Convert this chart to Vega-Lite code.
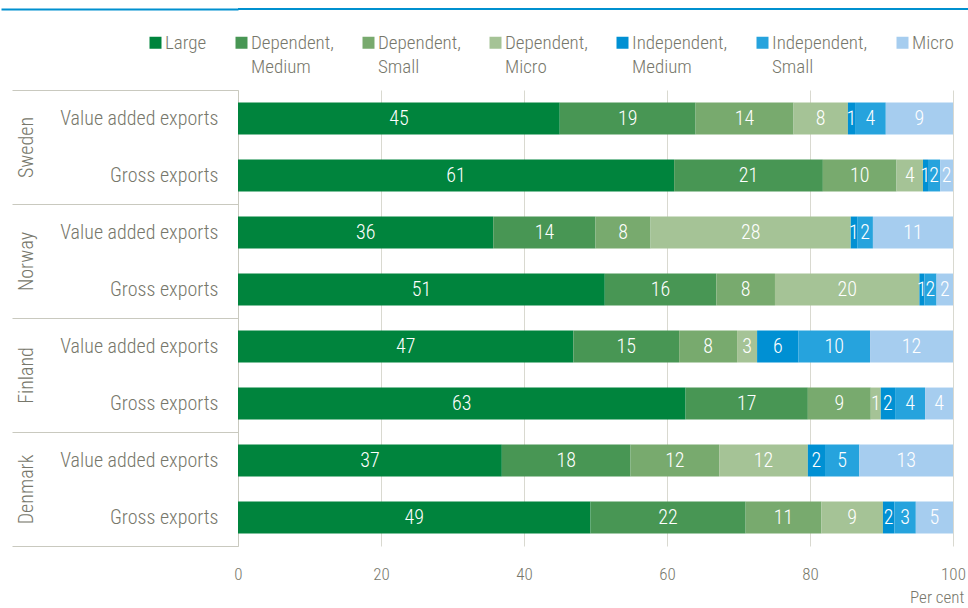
{
  "$schema": "https://vega.github.io/schema/vega-lite/v6.json",
  "padding": {"top": 8, "left": 0, "right": 0, "bottom": 0},
  "background": "white",
  "spacing": 79,
  "config": {
    "view": {"stroke": null},
    "font": "Roboto Condensed, Liberation Sans Narrow, DejaVu Sans Condensed, sans-serif"
  },
  "vconcat": [
    {
      "width": 731,
      "height": 1,
      "data": {"values": [{"line": 1}]},
      "mark": {"type": "rule", "color": "#0090cf", "strokeWidth": 2},
      "encoding": {
        "y": {
          "field": "line",
          "type": "quantitative",
          "scale": {"domain": [0, 1]},
          "axis": {
            "orient": "left",
            "values": [1],
            "title": null,
            "domain": false,
            "labels": false,
            "grid": false,
            "ticks": true,
            "tickSize": 237,
            "tickWidth": 2,
            "tickColor": "#0090cf"
          }
        }
      }
    },
    {
      "width": 715,
      "height": 456,
      "data": {
        "values": [
          {"country": "Sweden", "type": "Value added exports", "cat": "Large", "value": 45.0},
          {"country": "Sweden", "type": "Value added exports", "cat": "Dependent, Medium", "value": 19.0},
          {"country": "Sweden", "type": "Value added exports", "cat": "Dependent, Small", "value": 13.7},
          {"country": "Sweden", "type": "Value added exports", "cat": "Dependent, Micro", "value": 7.6},
          {"country": "Sweden", "type": "Value added exports", "cat": "Independent, Medium", "value": 1.0},
          {"country": "Sweden", "type": "Value added exports", "cat": "Independent, Small", "value": 4.3},
          {"country": "Sweden", "type": "Value added exports", "cat": "Micro", "value": 9.4},
          {"country": "Sweden", "type": "Gross exports", "cat": "Large", "value": 61.0},
          {"country": "Sweden", "type": "Gross exports", "cat": "Dependent, Medium", "value": 20.8},
          {"country": "Sweden", "type": "Gross exports", "cat": "Dependent, Small", "value": 10.3},
          {"country": "Sweden", "type": "Gross exports", "cat": "Dependent, Micro", "value": 3.7},
          {"country": "Sweden", "type": "Gross exports", "cat": "Independent, Medium", "value": 0.7},
          {"country": "Sweden", "type": "Gross exports", "cat": "Independent, Small", "value": 1.7},
          {"country": "Sweden", "type": "Gross exports", "cat": "Micro", "value": 1.8},
          {"country": "Norway", "type": "Value added exports", "cat": "Large", "value": 35.7},
          {"country": "Norway", "type": "Value added exports", "cat": "Dependent, Medium", "value": 14.3},
          {"country": "Norway", "type": "Value added exports", "cat": "Dependent, Small", "value": 7.7},
          {"country": "Norway", "type": "Value added exports", "cat": "Dependent, Micro", "value": 28.0},
          {"country": "Norway", "type": "Value added exports", "cat": "Independent, Medium", "value": 0.9},
          {"country": "Norway", "type": "Value added exports", "cat": "Independent, Small", "value": 2.2},
          {"country": "Norway", "type": "Value added exports", "cat": "Micro", "value": 11.2},
          {"country": "Norway", "type": "Gross exports", "cat": "Large", "value": 51.3},
          {"country": "Norway", "type": "Gross exports", "cat": "Dependent, Medium", "value": 15.6},
          {"country": "Norway", "type": "Gross exports", "cat": "Dependent, Small", "value": 8.2},
          {"country": "Norway", "type": "Gross exports", "cat": "Dependent, Micro", "value": 20.2},
          {"country": "Norway", "type": "Gross exports", "cat": "Independent, Medium", "value": 0.7},
          {"country": "Norway", "type": "Gross exports", "cat": "Independent, Small", "value": 1.7},
          {"country": "Norway", "type": "Gross exports", "cat": "Micro", "value": 2.3},
          {"country": "Finland", "type": "Value added exports", "cat": "Large", "value": 46.9},
          {"country": "Finland", "type": "Value added exports", "cat": "Dependent, Medium", "value": 14.8},
          {"country": "Finland", "type": "Value added exports", "cat": "Dependent, Small", "value": 8.1},
          {"country": "Finland", "type": "Value added exports", "cat": "Dependent, Micro", "value": 2.8},
          {"country": "Finland", "type": "Value added exports", "cat": "Independent, Medium", "value": 5.8},
          {"country": "Finland", "type": "Value added exports", "cat": "Independent, Small", "value": 10.0},
          {"country": "Finland", "type": "Value added exports", "cat": "Micro", "value": 11.6},
          {"country": "Finland", "type": "Gross exports", "cat": "Large", "value": 62.6},
          {"country": "Finland", "type": "Gross exports", "cat": "Dependent, Medium", "value": 17.1},
          {"country": "Finland", "type": "Gross exports", "cat": "Dependent, Small", "value": 8.8},
          {"country": "Finland", "type": "Gross exports", "cat": "Dependent, Micro", "value": 1.4},
          {"country": "Finland", "type": "Gross exports", "cat": "Independent, Medium", "value": 2.0},
          {"country": "Finland", "type": "Gross exports", "cat": "Independent, Small", "value": 4.2},
          {"country": "Finland", "type": "Gross exports", "cat": "Micro", "value": 3.9},
          {"country": "Denmark", "type": "Value added exports", "cat": "Large", "value": 36.9},
          {"country": "Denmark", "type": "Value added exports", "cat": "Dependent, Medium", "value": 18.0},
          {"country": "Denmark", "type": "Value added exports", "cat": "Dependent, Small", "value": 12.4},
          {"country": "Denmark", "type": "Value added exports", "cat": "Dependent, Micro", "value": 12.4},
          {"country": "Denmark", "type": "Value added exports", "cat": "Independent, Medium", "value": 2.4},
          {"country": "Denmark", "type": "Value added exports", "cat": "Independent, Small", "value": 4.8},
          {"country": "Denmark", "type": "Value added exports", "cat": "Micro", "value": 13.1},
          {"country": "Denmark", "type": "Gross exports", "cat": "Large", "value": 49.3},
          {"country": "Denmark", "type": "Gross exports", "cat": "Dependent, Medium", "value": 21.7},
          {"country": "Denmark", "type": "Gross exports", "cat": "Dependent, Small", "value": 10.6},
          {"country": "Denmark", "type": "Gross exports", "cat": "Dependent, Micro", "value": 8.6},
          {"country": "Denmark", "type": "Gross exports", "cat": "Independent, Medium", "value": 1.6},
          {"country": "Denmark", "type": "Gross exports", "cat": "Independent, Small", "value": 3.0},
          {"country": "Denmark", "type": "Gross exports", "cat": "Micro", "value": 5.2}
        ]
      },
      "transform": [
        {"calculate": "indexof(['Large','Dependent, Medium','Dependent, Small','Dependent, Micro','Independent, Medium','Independent, Small','Micro'], datum.cat)", "as": "ord"},
        {"calculate": "datum.country + '|' + datum.type", "as": "key"},
        {"stack": "value", "groupby": ["key"], "sort": [{"field": "ord", "order": "ascending"}], "as": ["v0", "v1"]},
        {"calculate": "(datum.v0 + datum.v1) / 2", "as": "mid"}
      ],
      "layer": [
        {
          "layer": [
            {
              "mark": {"type": "bar", "height": {"band": 0.56}},
              "encoding": {
                "y": {
                  "field": "key",
                  "type": "nominal",
                  "scale": {
                    "domain": ["Sweden|Value added exports", "Sweden|Gross exports", "Norway|Value added exports", "Norway|Gross exports", "Finland|Value added exports", "Finland|Gross exports", "Denmark|Value added exports", "Denmark|Gross exports"],
                    "padding": 0
                  },
                  "axis": {
                    "orient": "left",
                    "title": null,
                    "domain": false,
                    "ticks": false,
                    "labelPadding": 20,
                    "labelFontSize": 20,
                    "labelFontWeight": 300,
                    "labelColor": "#77776b",
                    "labelLimit": 400,
                    "labelExpr": "split(datum.label, '|')[1]"
                  }
                },
                "x": {
                  "field": "v0",
                  "type": "quantitative",
                  "scale": {"domain": [0, 100]},
                  "axis": {
                    "values": [0, 20, 40, 60, 80, 100],
                    "grid": true,
                    "gridColor": "#d9d9d0",
                    "domain": false,
                    "ticks": false,
                    "labelFlush": false,
                    "labelFontSize": 17,
                    "labelFontWeight": 300,
                    "labelPadding": 20,
                    "labelColor": "#77776b",
                    "title": "Per cent",
                    "titleFontSize": 17,
                    "titleFontWeight": 300,
                    "titleColor": "#77776b",
                    "titleX": 726,
                    "titleY": 56,
                    "titleAlign": "right",
                    "titleBaseline": "alphabetic"
                  }
                },
                "x2": {"field": "v1"},
                "color": {
                  "field": "cat",
                  "type": "nominal",
                  "scale": {
                    "domain": ["Large", "Dependent, Medium", "Dependent, Small", "Dependent, Micro", "Independent, Medium", "Independent, Small", "Micro"],
                    "range": ["#00843d", "#489654", "#78aa6e", "#a5c396", "#0090d3", "#26a3dd", "#a6cdef"]
                  },
                  "legend": {
                    "orient": "none",
                    "legendX": -92,
                    "legendY": 24,
                    "direction": "horizontal",
                    "title": null,
                    "symbolType": "square",
                    "symbolSize": 144,
                    "symbolStrokeWidth": 0,
                    "symbolOpacity": 1,
                    "symbolBaseline": "top",
                    "labelBaseline": "top",
                    "labelFontSize": 19,
                    "labelFontWeight": 300,
                    "labelColor": "#77776b",
                    "labelOffset": 0,
                    "columnPadding": 25,
                    "labelLimit": 300,
                    "labelExpr": "indexof(datum.label, ', ') > 0 ? [slice(datum.label, 0, indexof(datum.label, ', ') + 1), slice(datum.label, indexof(datum.label, ', ') + 2)] : [datum.label, ' ']",
                    "encode": {"labels": {"update": {"lineHeight": {"value": 24}, "dy": {"value": -9}}}}
                  }
                }
              }
            },
            {
              "mark": {"type": "text", "color": "white", "fontSize": 20, "fontWeight": 300, "baseline": "middle", "align": "center"},
              "encoding": {
                "y": {"field": "key", "type": "nominal"},
                "x": {"field": "mid", "type": "quantitative"},
                "text": {"field": "value", "type": "quantitative", "format": ".0f"}
              }
            }
          ]
        },
        {
          "transform": [{"filter": "datum.cat == 'Large'"}],
          "mark": {"type": "text", "text": ""},
          "encoding": {
            "y": {
              "field": "country",
              "type": "nominal",
              "scale": {"domain": ["Sweden", "Norway", "Finland", "Denmark"], "padding": 0},
              "axis": {
                "orient": "left",
                "title": null,
                "domain": true,
                "domainColor": "#c9c9bf",
                "ticks": true,
                "tickBand": "extent",
                "tickSize": 226,
                "tickColor": "#c9c9bf",
                "labelAngle": 270,
                "labelAlign": "center",
                "labelBaseline": "middle",
                "labelPadding": -14,
                "labelFontSize": 20,
                "labelFontWeight": 300,
                "labelColor": "#77776b"
              }
            }
          }
        }
      ],
      "resolve": {"scale": {"y": "independent"}, "axis": {"y": "independent"}}
    }
  ]
}
